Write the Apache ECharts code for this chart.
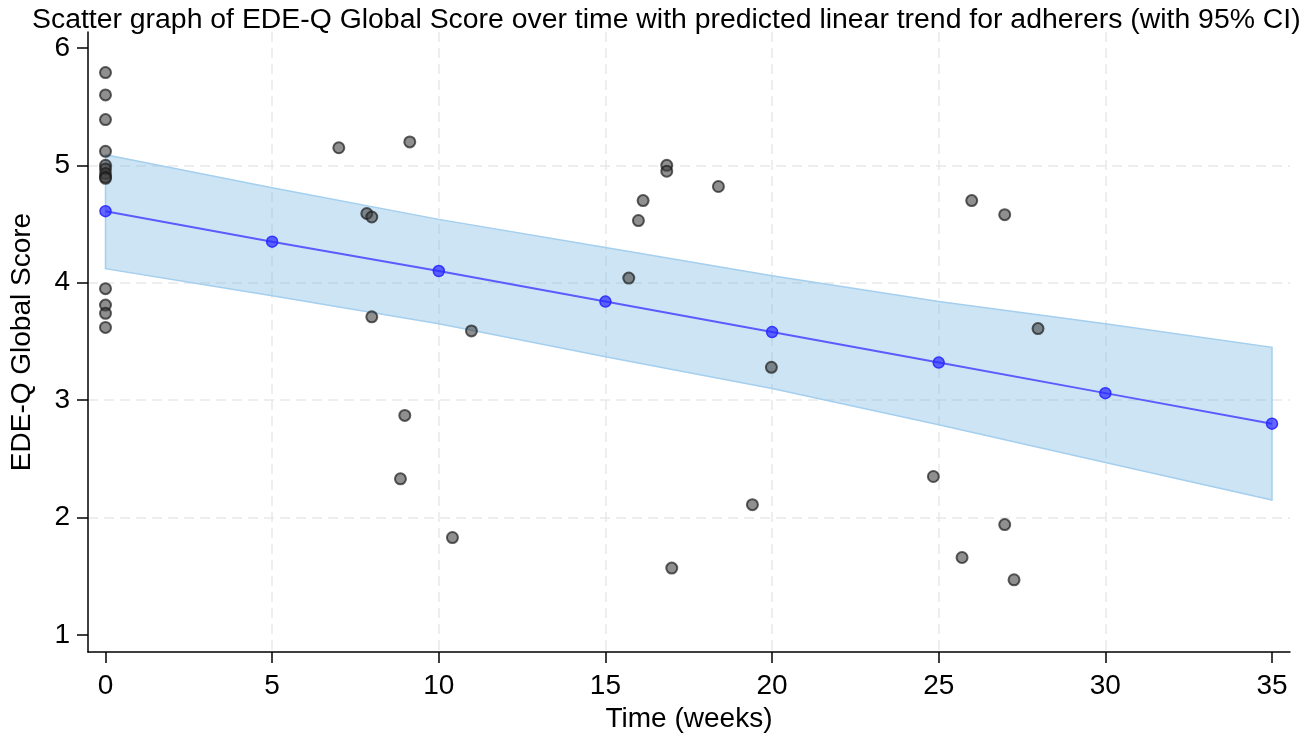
<!DOCTYPE html>
<html>
<head>
<meta charset="utf-8">
<script src="https://cdn.jsdelivr.net/npm/echarts@6/dist/echarts.min.js"></script>
<style>
  html, body { margin: 0; padding: 0; background: #fff; }
  #chart { width: 1310px; height: 740px; }
</style>
</head>
<body>
<div id="chart"></div>
<script>
// observed scores (time in weeks, EDE-Q global score)
const obsTime = [0, 0, 0, 0, 0, 0, 0, 0, 0, 0, 0, 0, 0,
  7.0, 9.13, 7.84, 7.99, 7.99, 10.98, 8.98, 8.85, 10.41,
  16.84, 16.84, 18.39, 16.13, 15.99, 15.70, 19.41, 16.99, 19.98,
  25.99, 26.98, 27.98, 24.84, 26.98, 25.70, 27.26];
const obsScore = [5.79, 5.60, 5.39, 5.12, 5.00, 4.97, 4.93, 4.90, 4.89, 3.95, 3.81, 3.74, 3.62,
  5.15, 5.20, 4.59, 4.56, 3.71, 3.59, 2.87, 2.33, 1.83,
  5.00, 4.95, 4.82, 4.70, 4.53, 4.04, 2.11, 1.57, 3.28,
  4.70, 4.58, 3.61, 2.35, 1.94, 1.66, 1.47];

// predicted linear trend with 95% CI
const predTime = [0, 5, 10, 15, 20, 25, 30, 35];
const predScore = [4.61, 4.35, 4.10, 3.84, 3.58, 3.32, 3.06, 2.80];
const ciUpper = [5.09, 4.81, 4.54, 4.30, 4.06, 3.84, 3.65, 3.45];
const ciLower = [4.12, 3.89, 3.65, 3.37, 3.10, 2.79, 2.47, 2.15];

const xTicks = [0, 5, 10, 15, 20, 25, 30, 35];
const yTicks = [1, 2, 3, 4, 5, 6];

const font = 'Liberation Sans, Arial, Helvetica, sans-serif';

const chart = echarts.init(document.getElementById('chart'));

const splitStyle = { show: true, showMinLine: false, showMaxLine: false,
  lineStyle: { color: '#e9e9e9', width: 1.5, type: [10, 6] } };

chart.setOption({
  animation: false,
  title: {
    text: 'Scatter graph of EDE-Q Global Score over time with predicted linear trend for adherers (with 95% CI)',
    left: 27,
    top: 1,
    textStyle: { fontFamily: font, fontSize: 28.4, fontWeight: 'normal', color: '#000' }
  },
  grid: { left: 88, right: 20, top: 32, bottom: 88 },
  xAxis: {
    type: 'value',
    min: -0.525,
    max: 35.54,
    splitNumber: 7,
    name: 'Time (weeks)',
    nameLocation: 'middle',
    nameGap: 52,
    nameTextStyle: { fontFamily: font, fontSize: 28, color: '#000' },
    axisLine: { show: true, onZero: false, lineStyle: { color: '#000', width: 1.5 } },
    axisTick: { show: true, length: 11, customValues: xTicks, lineStyle: { color: '#000', width: 1.5 } },
    axisLabel: { customValues: xTicks, margin: 20, fontFamily: font, fontSize: 28, color: '#000' },
    splitLine: splitStyle
  },
  yAxis: {
    type: 'value',
    min: 0.855,
    max: 6.136,
    splitNumber: 5,
    name: 'EDE-Q Global Score',
    nameLocation: 'middle',
    nameGap: 52,
    nameTextStyle: { fontFamily: font, fontSize: 28, color: '#000' },
    axisLine: { show: true, onZero: false, lineStyle: { color: '#000', width: 1.5 } },
    axisTick: { show: true, length: 11, customValues: yTicks, lineStyle: { color: '#000', width: 1.5 } },
    axisLabel: { customValues: yTicks, margin: 18, fontFamily: font, fontSize: 28, color: '#000' },
    splitLine: splitStyle
  },
  series: [
    {
      // 95% CI band
      type: 'custom',
      data: [[predTime[0], ciLower[0]]],
      z: 1,
      renderItem: (params, api) => {
        const top = predTime.map((t, i) => api.coord([t, ciUpper[i]]));
        const bottom = predTime.map((t, i) => api.coord([t, ciLower[i]])).reverse();
        return {
          type: 'polygon',
          shape: { points: top.concat(bottom) },
          style: { fill: 'rgba(120,184,226,0.38)', stroke: '#a5cfee', lineWidth: 1.5 }
        };
      }
    },
    {
      type: 'scatter',
      data: obsTime.map((t, i) => [t, obsScore[i]]),
      symbolSize: 11,
      z: 3,
      itemStyle: { color: 'rgba(60,60,60,0.72)', borderColor: 'rgba(25,25,25,0.85)', borderWidth: 2 }
    },
    {
      type: 'line',
      data: predTime.map((t, i) => [t, predScore[i]]),
      symbol: 'circle',
      symbolSize: 11,
      z: 4,
      lineStyle: { color: '#5b5bff', width: 2 },
      itemStyle: { color: 'rgba(40,40,255,0.7)', borderColor: 'rgba(40,40,255,0.9)', borderWidth: 1.5 }
    }
  ]
});
</script>
</body>
</html>
